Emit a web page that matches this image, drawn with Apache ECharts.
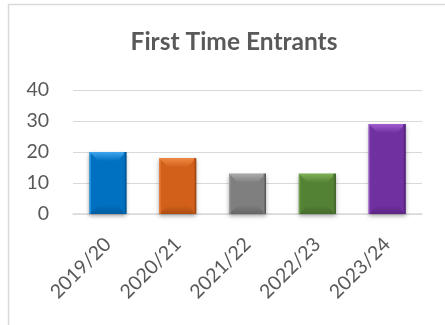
<!DOCTYPE html>
<html>
<head>
<meta charset="utf-8">
<script src="https://cdn.jsdelivr.net/npm/echarts@6/dist/echarts.min.js"></script>
<style>
  html, body { margin: 0; padding: 0; background: #fff; }
  #chart { width: 445px; height: 325px; }
</style>
</head>
<body>
<div id="chart"></div>
<script>
// Season labels and first-time entrant counts
const categories = ['2019/20', '2020/21', '2021/22', '2022/23', '2023/24'];
const entrants = [20, 18, 13, 13, 29];
const yTicks = [0, 10, 20, 30, 40];

// Per-bar colours: face, bevel highlight, bevel shade
const palette = [
  { face: '#0070C0', light: '#3FA6EE', dark: '#004C86' },
  { face: '#D2601A', light: '#F08A45', dark: '#8E3E0C' },
  { face: '#7F7F7F', light: '#ABABAB', dark: '#505050' },
  { face: '#548235', light: '#7DB155', dark: '#365722' },
  { face: '#7030A0', light: '#A05ED0', dark: '#4A1B6D' }
];

const chart = echarts.init(document.getElementById('chart'), null, { renderer: 'canvas' });

function bevelBar(params, api) {
  const i = api.value(0);
  const top = api.coord([i, api.value(1)]);
  const base = api.coord([i, 0]);
  const w = api.size([1, 0])[0] * 0.53;
  const x0 = top[0] - w / 2, x1 = top[0] + w / 2;
  const y0 = top[1], y1 = base[1];
  const b = Math.min(9, (y1 - y0) / 2);
  const c = palette[i % palette.length];
  return {
    type: 'group',
    children: [
      {
        type: 'rect',
        shape: { x: x0, y: y0, width: w, height: y1 - y0 },
        style: { fill: c.face, shadowBlur: 4, shadowOffsetY: 2, shadowColor: 'rgba(0,0,0,0.35)' }
      },
      {
        type: 'polygon',
        shape: { points: [[x0, y0], [x1, y0], [x1 - b, y0 + b], [x0 + b, y0 + b]] },
        style: {
          fill: new echarts.graphic.LinearGradient(0, 0, 0, 1, [
            { offset: 0, color: c.light },
            { offset: 1, color: c.face }
          ])
        }
      },
      {
        type: 'polygon',
        shape: { points: [[x0, y1], [x1, y1], [x1 - b, y1 - b], [x0 + b, y1 - b]] },
        style: {
          fill: new echarts.graphic.LinearGradient(0, 0, 0, 1, [
            { offset: 0, color: c.face },
            { offset: 1, color: c.dark }
          ]),
          opacity: 0.55
        }
      },
      {
        type: 'rect',
        shape: { x: x1 - 2.5, y: y0, width: 2.5, height: y1 - y0 },
        style: {
          fill: new echarts.graphic.LinearGradient(0, 0, 1, 0, [
            { offset: 0, color: c.face },
            { offset: 1, color: c.dark }
          ])
        }
      },
      {
        type: 'rect',
        shape: { x: x0, y: y0, width: 1.5, height: y1 - y0 },
        style: { fill: c.light, opacity: 0.6 }
      }
    ]
  };
}

const option = {
  animation: false,
  backgroundColor: '#ffffff',
  graphic: [
    {
      type: 'rect',
      shape: { x: 8.5, y: 4.5, width: 600, height: 500 },
      style: { fill: 'none', stroke: '#D9D9D9', lineWidth: 1.5 },
      silent: true
    }
  ],
  title: {
    text: 'First Time Entrants',
    left: 229,
    top: 25,
    textAlign: 'center',
    textStyle: {
      fontFamily: 'Lato',
      fontWeight: 'bold',
      fontSize: 24.5,
      color: '#595959'
    }
  },
  grid: { left: 73, right: 23, top: 90, bottom: 111, containLabel: false },
  xAxis: {
    type: 'category',
    data: categories,
    axisLine: { show: true, lineStyle: { color: '#D9D9D9', width: 1.5 } },
    axisTick: { show: false },
    axisLabel: {
      rotate: 45,
      margin: 27,
      fontFamily: 'Lato',
      fontSize: 19.5,
      color: '#595959'
    }
  },
  yAxis: {
    type: 'value',
    min: yTicks[0],
    max: yTicks[yTicks.length - 1],
    interval: yTicks[1] - yTicks[0],
    axisLine: { show: false },
    axisTick: { show: false },
    splitLine: { lineStyle: { color: '#D9D9D9', width: 1.2 } },
    axisLabel: {
      margin: 24,
      fontFamily: 'Lato',
      fontSize: 19.5,
      color: '#595959'
    }
  },
  series: [
    {
      type: 'custom',
      renderItem: bevelBar,
      encode: { x: 0, y: 1 },
      data: entrants.map((v, i) => [i, v]),
      z: 3
    }
  ]
};

chart.setOption(option);
</script>
</body>
</html>
